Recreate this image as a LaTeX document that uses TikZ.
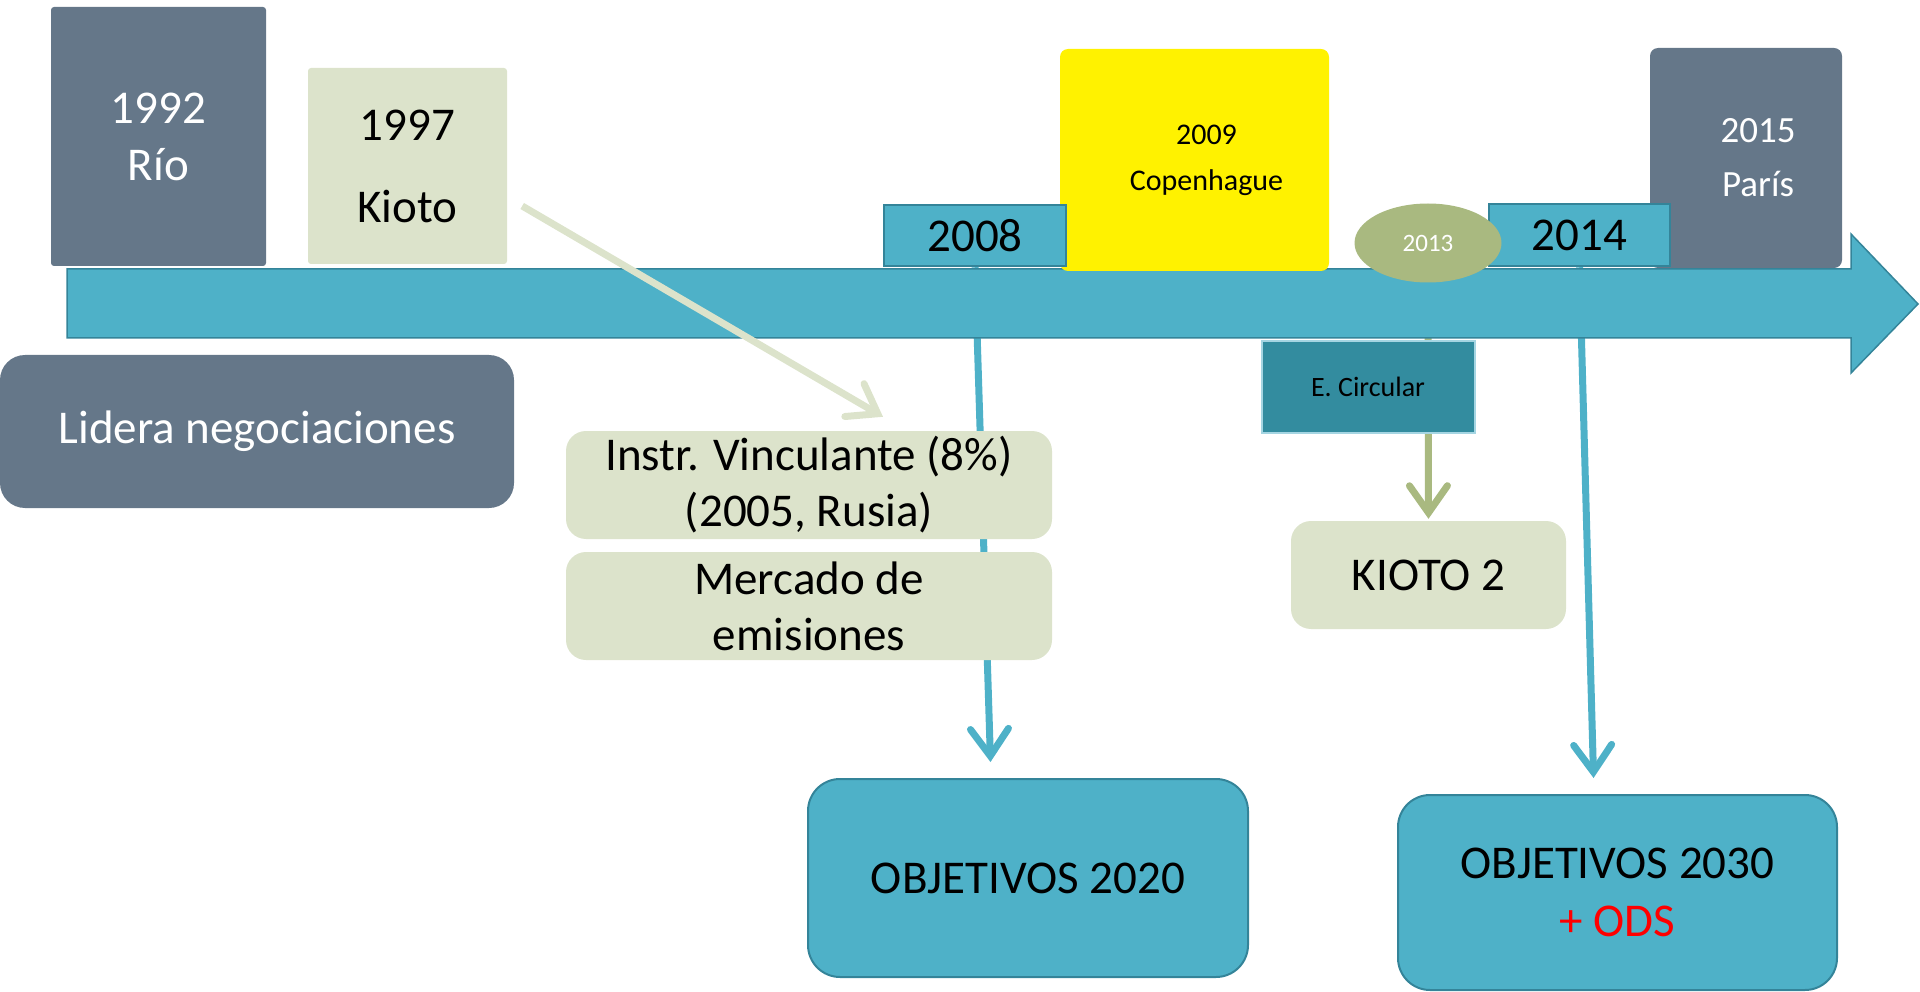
\documentclass[tikz,border=0pt]{standalone}
\usepackage{fontspec}
\setmainfont{Carlito}
\usetikzlibrary{arrows.meta,shapes.geometric,backgrounds}

\definecolor{slate}{RGB}{101,119,137}
\definecolor{aqua}{RGB}{78,177,200}
\definecolor{aquadark}{RGB}{52,132,153}
\definecolor{sagelight}{RGB}{220,227,203}
\definecolor{sage}{RGB}{169,185,128}
\definecolor{circteal}{RGB}{51,140,159}
\definecolor{circborder}{RGB}{165,213,226}

\newcommand{\bigfont}{\fontsize{47}{57}\selectfont}

\begin{document}
\begin{tikzpicture}[x=1pt,y=-1pt,
  box/.style={inner sep=0pt, align=center},
  slatebox/.style={box, fill=slate, text=white},
  sagebox/.style={box, fill=sagelight, rounded corners=20pt, font=\bigfont},
  yearbox/.style={box, fill=aqua, draw=aquadark, line width=2.5pt, font=\bigfont},
  goalbox/.style={box, fill=aqua, draw=aquadark, line width=2pt, rounded corners=32pt, font=\bigfont},
  conn/.style={line width=7pt, -{Straight Barb[length=27pt,width=38pt,line cap=round]}}]
\useasboundingbox (0,0) rectangle (1920,992);

% timeline
\draw[fill=aqua, draw=aquadark, line width=1.5pt] (67,269) -- (1851,269) -- (1851,234) -- (1918,304)
  -- (1851,373) -- (1851,338) -- (67,338) -- cycle;

% before 2000
\node[slatebox, rounded corners=3pt, minimum width=215pt, minimum height=259pt, font=\bigfont] (rio) at (158.5,136.5) {1992\\Río};
\node[sagebox, rounded corners=3pt, minimum width=199pt, minimum height=196pt, font=\fontsize{47}{82}\selectfont] (kioto) at (407.5,166) {1997\\Kioto};
\node[slatebox, rounded corners=25pt, minimum width=514pt, minimum height=153pt, font=\bigfont] (lidera) at (257,431.5) {Lidera negociaciones};

% 2008 - 2015
\node[box, fill=yellow, rounded corners=8pt, minimum width=269pt, minimum height=222pt, font=\fontsize{30}{46}\selectfont] (cop) at (1194.5,160) {\hspace*{24pt}2009\\\hspace*{24pt}Copenhague};
\node[yearbox, minimum width=182pt, minimum height=61pt] (y2008) at (975,235.5) {2008};
\node[slatebox, rounded corners=8pt, minimum width=192pt, minimum height=220pt, font=\fontsize{37}{54}\selectfont] (paris) at (1746,158) {\hspace*{24pt}2015\\\hspace*{24pt}París};
\node[yearbox, minimum width=181pt, minimum height=62pt] (y2014) at (1579.5,235) {2014};
\node[ellipse, fill=sage, text=white, inner sep=0pt, minimum width=147pt, minimum height=79pt, font=\fontsize{25}{30}\selectfont] (y2013) at (1428,243) {2013};

% below the timeline
\node[box, fill=circteal, draw=circborder, line width=2pt, minimum width=213pt, minimum height=91pt, font=\fontsize{28}{34}\selectfont] (circ) at (1368,387) {E. Circular};
\node[sagebox, minimum width=275pt, minimum height=108pt] (kioto2) at (1428.5,575) {KIOTO 2};
\node[sagebox, minimum width=486pt, minimum height=108pt, font=\fontsize{47}{56}\selectfont] (instr) at (809,485) {Instr. Vinculante (8\%)\\(2005, Rusia)};
\node[sagebox, minimum width=486pt, minimum height=108pt, font=\fontsize{47}{56}\selectfont] (mercado) at (809,606) {Mercado de\\emisiones};
\node[goalbox, minimum width=440pt, minimum height=198pt] (obj2020) at (1028,878) {OBJETIVOS 2020};
\node[goalbox, minimum width=439pt, minimum height=195pt, font=\fontsize{47}{58}\selectfont] (obj2030) at (1617.5,892.5) {OBJETIVOS 2030\\\textcolor{red}{+ ODS}};

% connectors
\begin{scope}[on background layer]
\draw[conn, aqua, shorten >=16pt] (y2008.south) -- ([xshift=-37pt]obj2020.north);
\draw[conn, aqua, shorten >=16pt] (y2014.south) -- ([xshift=-23.5pt]obj2030.north);
\draw[conn, sage, shorten >=2pt] (y2013.south) -- (kioto2.north);
\end{scope}
\draw[conn, sagelight] ([shift={(15,40)}]kioto.east) -- ([shift={(74,-14)}]instr.north);
\end{tikzpicture}
\end{document}
